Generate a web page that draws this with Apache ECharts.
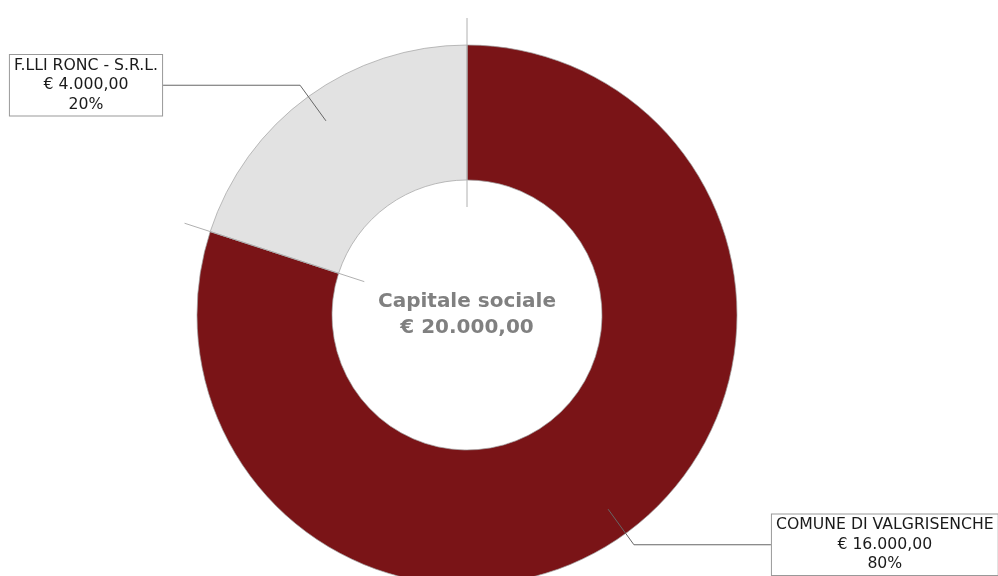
<!DOCTYPE html>
<html>
<head>
<meta charset="utf-8">
<script src="https://cdn.jsdelivr.net/npm/echarts@6/dist/echarts.min.js"></script>
<style>
html,body{margin:0;padding:0;background:#fff;}
#c{width:998px;height:576px;}
</style>
</head>
<body>
<div id="c"></div>
<script>
// Data
var names = ['COMUNE DI VALGRISENCHE', 'F.LLI RONC - S.R.L.'];
var values = [16000, 4000];
var colors = ['#7a1417', '#e2e2e2'];
var centerTitle = 'Capitale sociale';

function fmtEuro(v) {
  var parts = v.toFixed(2).split('.');
  var intPart = parts[0].replace(/\B(?=(\d{3})+(?!\d))/g, '.');
  return '€ ' + intPart + ',' + parts[1];
}

var total = values.reduce(function (a, b) { return a + b; }, 0);
var CX = 467, CY = 315, R_IN = 135, R_OUT = 270;

var boundaries = [];
var cum = 0;
for (var i = 0; i < values.length; i++) { boundaries.push(cum); cum += values[i]; }

var pieData = names.map(function (n, i) {
  return { name: n, value: values[i], itemStyle: { color: colors[i] } };
});
var labelData = names.map(function (n, i) {
  return { name: n, value: values[i] };
});

var lineSeries = boundaries.map(function (b) {
  return {
    type: 'line', coordinateSystem: 'polar', z: 5, silent: true,
    symbol: 'none', animation: false,
    lineStyle: { color: '#b0b0b0', width: 1 },
    data: [[108, b], [297, b]]
  };
});

var chart = echarts.init(document.getElementById('c'));
chart.setOption({
  animation: false,
  backgroundColor: '#ffffff',
  polar: { center: [CX, CY], radius: 300 },
  radiusAxis: { min: 0, max: 300, show: false, axisLine: {show:false}, splitLine:{show:false}, axisLabel:{show:false}, axisTick:{show:false} },
  angleAxis: { min: 0, max: total, startAngle: 90, clockwise: true, show: false, axisLine:{show:false}, splitLine:{show:false}, axisLabel:{show:false}, axisTick:{show:false} },
  graphic: [{
    type: 'text', z: 10,
    x: CX, y: CY,
    style: {
      text: centerTitle + '\n' + fmtEuro(total),
      font: 'bold 20px "DejaVu Sans"',
      fill: '#808080', align: 'center', verticalAlign: 'middle',
      lineHeight: 26
    }
  }],
  series: [
    {
      type: 'pie', z: 2, center: [CX, CY], radius: [R_IN, R_OUT],
      startAngle: 90, clockwise: true, silent: true,
      label: { show: false }, labelLine: { show: false },
      itemStyle: { borderColor: '#a0a0a0', borderWidth: 0.7 },
      data: pieData
    },
    {
      type: 'pie', z: 4, center: [CX, CY], radius: [0, 240],
      startAngle: 90, clockwise: true, silent: true,
      avoidLabelOverlap: false,
      itemStyle: { color: 'rgba(0,0,0,0)' },
      label: {
        show: true, alignTo: 'none', distanceToLabelLine: 0,
        formatter: function (p) { return p.name + '\n' + fmtEuro(p.value) + '\n' + Math.round(p.percent) + '%'; },
        fontFamily: 'DejaVu Sans', fontSize: 15.7, lineHeight: 19.5,
        color: '#1a1a1a',
        backgroundColor: '#fff', borderColor: '#999', borderWidth: 1,
        padding: [1, 4]
      },
      labelLayout: function (params) {
        var pts = params.labelLinePoints;
        if (!pts) return {};
        var end = pts[pts.length - 1];
        var w = params.labelRect.width;
        var left = end[0] < CX;
        return {
          x: left ? end[0] - w / 2 : end[0] + w / 2,
          y: end[1],
          align: 'center', verticalAlign: 'middle',
          labelLinePoints: pts
        };
      },
      labelLine: { show: true, length: 44, length2: 137, lineStyle: { color: '#666', width: 1 } },
      data: labelData
    }
  ].concat(lineSeries)
});
</script>
</body>
</html>
